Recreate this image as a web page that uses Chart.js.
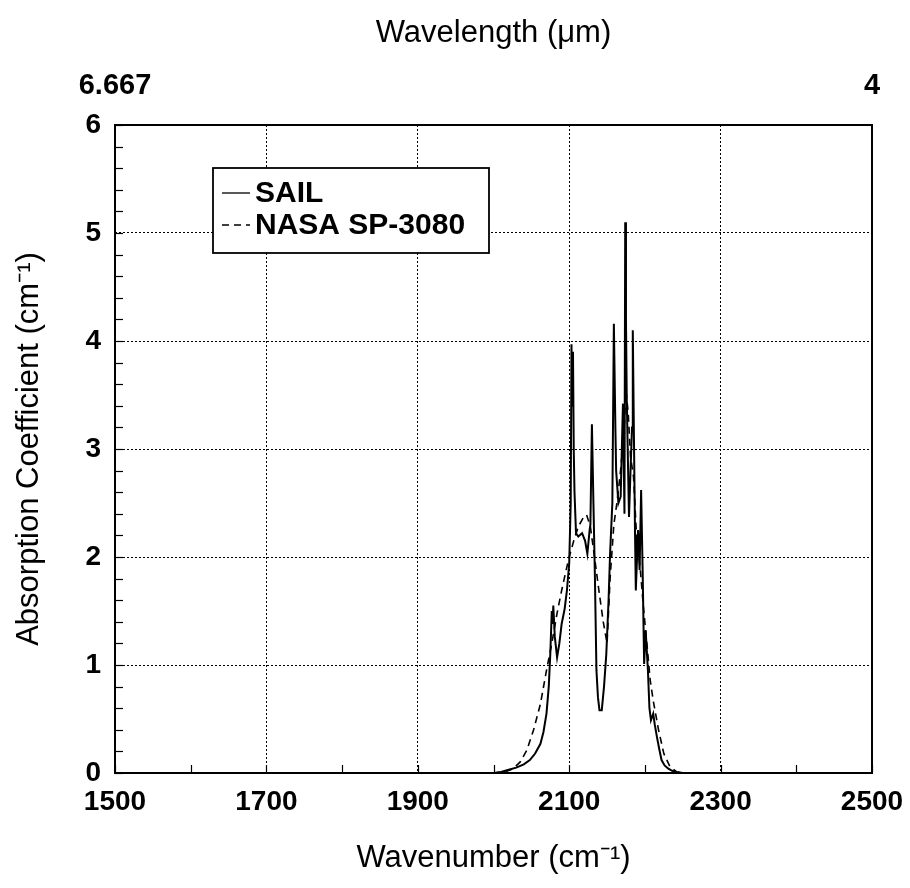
<!DOCTYPE html>
<html>
<head>
<meta charset="utf-8">
<script src="https://cdn.jsdelivr.net/npm/chart.js@4.4.1/dist/chart.umd.min.js"></script>
<style>
  body { margin: 0; background: #fff; }
  #wrap { width: 910px; height: 888px; }
</style>
</head>
<body>
<div id="wrap"><canvas id="absChart" width="910" height="888"></canvas></div>
<script>
// values
const sailWavenumber = [2000, 2010, 2020, 2030, 2040, 2048, 2055, 2062, 2066, 2070,
  2073, 2075, 2077, 2078, 2079, 2081, 2084, 2087, 2090, 2094,
  2097, 2100, 2102, 2103, 2104, 2105, 2106, 2107, 2109, 2112,
  2117, 2121, 2124, 2127, 2128, 2130, 2132, 2134, 2136, 2138,
  2140, 2143, 2146, 2149, 2152, 2154, 2157, 2159, 2161, 2162,
  2165, 2168, 2171, 2173, 2174, 2175, 2176, 2179, 2181, 2183,
  2184, 2186, 2187, 2188, 2191, 2193, 2195, 2197, 2199, 2201,
  2204, 2206, 2208, 2211, 2213, 2216, 2219, 2222, 2226, 2231,
  2236, 2242, 2250];
const sailAbsorption = [0, 0.01, 0.03, 0.05, 0.08, 0.12, 0.18, 0.27, 0.38, 0.55,
  0.8, 1.1, 1.5, 1.38, 1.55, 1.26, 1.07, 1.2, 1.38, 1.52,
  1.69, 1.94, 2.5, 3.97, 3.4, 3.9, 3.0, 2.6, 2.22, 2.19,
  2.22, 2.15, 2.03, 2.25, 2.3, 3.23, 2.5, 1.8, 0.95, 0.7,
  0.58, 0.58, 0.8, 1.1, 1.6, 2.03, 2.5, 4.16, 3.2, 2.8,
  2.5, 2.56, 3.42, 2.4, 5.1, 4.2, 3.48, 2.37, 2.8, 3.2,
  4.1, 2.8, 2.2, 1.69, 2.25, 1.88, 2.62, 1.88, 1.01, 1.32,
  0.95, 0.6, 0.49, 0.55, 0.45, 0.33, 0.22, 0.12, 0.07, 0.04,
  0.02, 0.01, 0];

const nasaWavenumber = [2000, 2015, 2026, 2035, 2044, 2053, 2062, 2070, 2077, 2084,
  2090, 2096, 2100, 2106, 2112, 2119, 2123, 2128, 2134, 2140,
  2145, 2150, 2154, 2159, 2163, 2167, 2172, 2175, 2178, 2181,
  2185, 2189, 2194, 2198, 2203, 2207, 2211, 2218, 2225, 2233,
  2242, 2250];
const nasaAbsorption = [0, 0.01, 0.04, 0.1, 0.21, 0.4, 0.64, 0.95, 1.2, 1.48,
  1.69, 1.88, 2.0, 2.15, 2.28, 2.37, 2.39, 2.28, 1.97, 1.65,
  1.4, 1.2, 1.8, 2.3, 2.5, 2.74, 3.11, 3.54, 3.33, 2.93,
  2.74, 2.19, 1.88, 1.54, 1.17, 0.86, 0.67, 0.4, 0.18, 0.06,
  0.01, 0];

const wavelengthTicks = [1500, 2500];
const wavelengthLabels = ['6.667', '4'];

const FONT = "'Liberation Sans', Arial, sans-serif";

const toPoints = (xs, ys) => xs.map((x, i) => ({ x: x, y: ys[i] }));

// box around the plot, small inward ticks, and the boxed legend
const framePlugin = {
  id: 'frame',
  afterDatasetsDraw(chart) {
    const { ctx, chartArea: a, scales } = chart;
    ctx.save();
    ctx.strokeStyle = '#000';
    ctx.lineWidth = 1.2;
    scales.x.ticks.forEach(t => {
      const px = Math.round(scales.x.getPixelForValue(t.value)) + 0.5;
      ctx.beginPath();
      ctx.moveTo(px, a.bottom);
      ctx.lineTo(px, a.bottom - 8);
      ctx.stroke();
    });
    scales.y.ticks.forEach(t => {
      const py = Math.round(scales.y.getPixelForValue(t.value)) + 0.5;
      ctx.beginPath();
      ctx.moveTo(a.left, py);
      ctx.lineTo(a.left + 8, py);
      ctx.stroke();
    });
    ctx.lineWidth = 2;
    ctx.strokeRect(a.left, a.top, a.right - a.left, a.bottom - a.top);

    // legend
    const lx = a.left + 98, ly = a.top + 43, lw = 276, lh = 85;
    ctx.fillStyle = '#fff';
    ctx.fillRect(lx, ly, lw, lh);
    ctx.lineWidth = 1.8;
    ctx.strokeRect(lx, ly, lw, lh);
    ctx.font = 'bold 30px ' + FONT;
    ctx.fillStyle = '#000';
    ctx.textBaseline = 'middle';
    chart.data.datasets.forEach((ds, i) => {
      const y = ly + 25 + i * 32;
      ctx.setLineDash(ds.borderDash || []);
      ctx.lineWidth = 1.3;
      ctx.beginPath();
      ctx.moveTo(lx + 9, y);
      ctx.lineTo(lx + 37, y);
      ctx.stroke();
      ctx.setLineDash([]);
      ctx.fillText(ds.label, lx + 42, y + 1);
    });
    ctx.restore();
  }
};

const isMajorX = v => (v - 1500) % 200 === 0 && v > 1500 && v < 2500;
const isWhole = v => Math.abs(v - Math.round(v)) < 1e-6;

// keep edge labels from shrinking the plot area
const fitX = h => s => { s.height = h; s.paddingLeft = 0; s.paddingRight = 0; };

const absChart = new Chart(document.getElementById('absChart').getContext('2d'), {
  type: 'line',
  data: {
    datasets: [{
      label: 'SAIL',
      data: toPoints(sailWavenumber, sailAbsorption),
      borderColor: '#000',
      borderWidth: 2,
      pointRadius: 0,
      tension: 0,
      fill: false
    }, {
      label: 'NASA SP-3080',
      data: toPoints(nasaWavenumber, nasaAbsorption),
      borderColor: '#000',
      borderWidth: 1.6,
      borderDash: [7, 5],
      pointRadius: 0,
      tension: 0,
      fill: false
    }]
  },
  options: {
    responsive: false,
    animation: false,
    events: [],
    layout: { padding: { right: 38 } },
    plugins: {
      legend: { display: false },
      tooltip: { enabled: false }
    },
    scales: {
      x: {
        type: 'linear',
        position: 'bottom',
        min: 1500,
        max: 2500,
        afterFit: fitX(115),
        ticks: {
          stepSize: 100,
          autoSkip: false,
          maxRotation: 0,
          padding: 12,
          color: '#000',
          font: { family: FONT, size: 28, weight: 'bold' },
          callback: v => (v - 1500) % 200 === 0 ? String(v) : ''
        },
        grid: {
          drawTicks: false,
          lineWidth: 1,
          color: c => isMajorX(c.tick.value) ? '#000' : 'rgba(0,0,0,0)'
        },
        border: { display: false, dash: [2, 2] },
        title: {
          display: true,
          text: 'Wavenumber (cm⁻¹)',
          color: '#000',
          font: { family: FONT, size: 31 },
          padding: { top: 11, bottom: 11 }
        }
      },
      x2: {
        type: 'linear',
        position: 'top',
        min: 1500,
        max: 2500,
        afterFit: fitX(125),
        afterBuildTicks: s => { s.ticks = wavelengthTicks.map(v => ({ value: v })); },
        ticks: {
          autoSkip: false,
          maxRotation: 0,
          padding: 22,
          color: '#000',
          font: { family: FONT, size: 29, weight: 'bold' },
          callback: v => wavelengthLabels[wavelengthTicks.indexOf(v)]
        },
        grid: { display: false, drawTicks: false },
        border: { display: false },
        title: {
          display: true,
          text: 'Wavelength (μm)',
          color: '#000',
          font: { family: FONT, size: 31 },
          padding: { top: 15, bottom: 15 }
        }
      },
      y: {
        type: 'linear',
        min: 0,
        max: 6,
        afterFit: s => { s.width = 115; },
        ticks: {
          stepSize: 0.2,
          autoSkip: false,
          padding: 14,
          color: '#000',
          font: { family: FONT, size: 28, weight: 'bold' },
          callback: v => isWhole(v) ? String(Math.round(v)) : ''
        },
        grid: {
          drawTicks: false,
          lineWidth: 1,
          color: c => (isWhole(c.tick.value) && c.tick.value > 0 && c.tick.value < 6) ? '#000' : 'rgba(0,0,0,0)'
        },
        border: { display: false, dash: [2, 2] },
        title: {
          display: true,
          text: 'Absorption Coefficient (cm⁻¹)',
          color: '#000',
          font: { family: FONT, size: 31 },
          padding: { top: 11, bottom: 11 }
        }
      }
    }
  },
  plugins: [framePlugin]
});
</script>
</body>
</html>
